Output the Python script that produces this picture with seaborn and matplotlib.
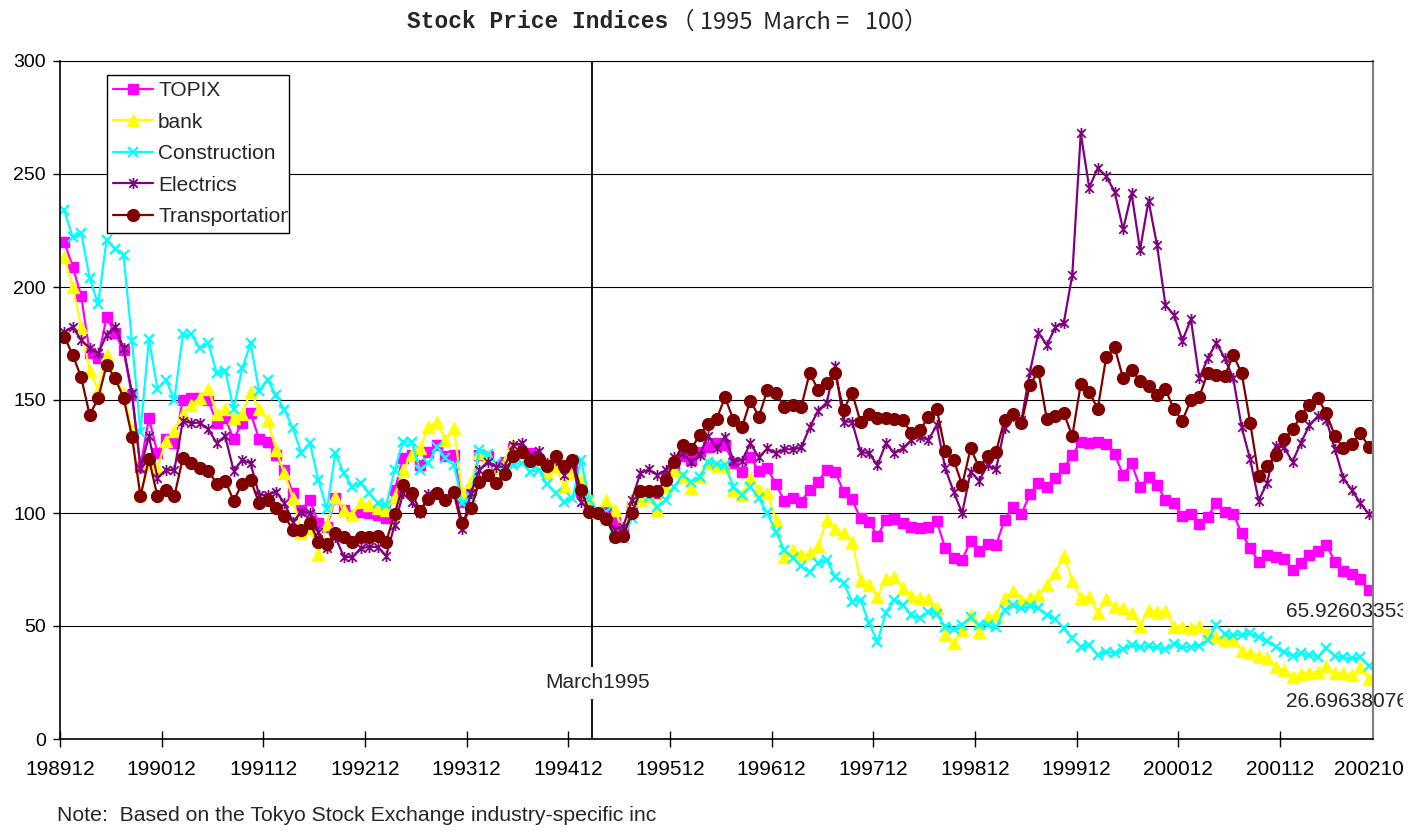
import numpy as np
import pandas as pd
import matplotlib
matplotlib.use("Agg")
import matplotlib.pyplot as plt
import seaborn as sns
from matplotlib.path import Path
from matplotlib.transforms import Bbox, TransformedBbox

# ==========================
# Monthly indices, 1989/12 .. 2002/10 (1995 March = 100)
# ==========================
topix = [220, 209, 196, 171, 168.5, 186.6, 179.5, 172, 152, 120.5,
         142, 126.6, 132.7, 131, 150, 151, 151, 150, 140, 142,
         132.7, 140, 144.4, 132.7, 131.5, 125.5, 119, 108.7, 101.3, 105.7,
         95.4, 94, 106.5, 101.3, 99, 100.6, 99.9, 99, 97.6, 110,
         124.2, 125.7, 121.2, 127, 130, 125, 125.7, 105, 110, 125.7,
         125, 121, 122.7, 128.6, 126.7, 126.4, 122.7, 121.2, 122.7, 120.5,
         120.5, 109.4, 101.3, 100.1, 100.6, 96, 92.5, 102.8, 109.4, 109,
         108.7, 116, 120.5, 125, 123.5, 127.1, 129.4, 130.8, 130, 122,
         118.3, 124.6, 118.7, 119.8, 112.8, 105.5, 106.5, 105, 110.2, 113.9,
         119, 118.3, 109.4, 106, 97.6, 96.2, 89.8, 96.9, 97.2, 95.7,
         93.7, 93.2, 94, 96.4, 84.4, 80, 79.2, 87.8, 83.3, 86.3,
         85.8, 96.9, 102.5, 99.6, 108.4, 113.1, 111.4, 115.3, 119.8, 125.7,
         131.6, 130.8, 131.6, 130.5, 126.1, 116.8, 122, 111.4, 115.8, 112.4,
         105.8, 104.3, 98.7, 99.6, 95.1, 98.1, 104.6, 100.6, 99.6, 91,
         84.4, 78.5, 81.4, 80.4, 79.5, 74.8, 77.7, 81.4, 83.3, 85.8,
         78.5, 74.5, 73, 70.6, 65.93]

bank = [213.4, 200, 182.5, 163, 154.4, 170, 160, 153, 136.7, 108,
        122, 120, 132, 136.4, 144, 148, 151, 155, 144, 146,
        142, 144, 153.7, 146, 141, 128, 117.5, 106.5, 91, 93.2,
        82, 95, 107.2, 101.3, 99, 105, 103.5, 102, 101.3, 107.2,
        119, 126, 128.6, 138.2, 140.4, 132.3, 137.5, 108.7, 113.9, 126.4,
        125, 120, 122.7, 130, 126.4, 124.2, 122, 117.5, 120.5, 112,
        117.5, 114.6, 106.5, 100.6, 105.8, 101.3, 91.7, 105.8, 105.8, 107.2,
        101.3, 111.7, 119, 116, 111, 116, 122, 121, 121, 110.2,
        108, 115.3, 110.2, 108.7, 96.9, 80.7, 83.6, 81.4, 82.2, 85.4,
        96.9, 92.8, 91, 87.3, 70.4, 68.1, 63, 71, 71.5, 66.7,
        63.3, 62.2, 61.8, 57.8, 46, 42.3, 48.2, 54.9, 47.5, 53.8,
        54.9, 62.2, 65.6, 61.5, 62.2, 63.7, 68.1, 73.6, 81, 70.1,
        62.2, 63, 55.6, 61.8, 58.6, 57.8, 55.6, 50.1, 57.1, 56.3,
        56.8, 49.7, 49.4, 49, 50, 46.8, 45, 43.8, 44, 39.1,
        37.9, 36.7, 35.7, 32, 30.5, 27.3, 28.8, 29.4, 29.8, 32.3,
        29, 29, 28.3, 31.7, 26.7]

construction = [234, 222, 224, 204, 192.5, 221, 217, 214, 176, 136,
                177, 155, 159, 150, 179, 179, 173, 175, 162, 163,
                146, 164, 175, 154, 159, 152, 145.6, 137.5, 126.4, 131,
                114.6, 101.6, 126.4, 117.5, 111.7, 113.4, 108.7, 104.3, 103.5, 119,
                131.6, 131.6, 119, 122, 129.4, 124.2, 121.2, 104.3, 107.2, 128,
                126, 122, 118, 121.2, 122.3, 118.3, 119, 112.8, 108.7, 105,
                106.5, 123.5, 105.8, 100.6, 100.6, 89.5, 88.8, 97.6, 108.7, 107.2,
                102.8, 105.8, 111.7, 116.8, 113.9, 116, 122.7, 121.6, 121.2, 111.7,
                108, 111.7, 106.5, 99.9, 91.7, 83.6, 80, 76.5, 74, 78,
                79.2, 71.8, 69.2, 60.8, 61.5, 51.2, 43.1, 55.9, 61.5, 59.3,
                54.9, 53.4, 56.3, 55.2, 49.7, 48.5, 50.4, 53.8, 50.4, 50.4,
                49.4, 57.1, 59.3, 57.8, 58.8, 57.8, 54.9, 53, 49, 44.5,
                40.9, 41.6, 37.2, 38.6, 38.2, 39.7, 41.6, 40.9, 41, 40.5,
                39.7, 42, 40.9, 40.6, 41.2, 43.8, 50.4, 46.5, 46, 46,
                47, 45, 43.5, 40.9, 38.6, 36.7, 37.9, 37.2, 36.4, 40.1,
                36.7, 36.1, 35.7, 36.1, 32.3]

electrics = [180, 182.4, 176.5, 173, 170.6, 178.8, 182.4, 173, 153, 120,
             134, 115.5, 119, 119, 140.8, 139.8, 140, 137, 131, 134,
             118.7, 123.5, 122, 108, 108, 109.5, 104.3, 96, 100.6, 100,
             91.7, 84.4, 89.5, 80.7, 80.4, 84.4, 85, 85, 81, 94.7,
             108.7, 105, 100, 108.4, 108.7, 105.7, 108.7, 92.8, 108.7, 119,
             122.7, 120.5, 120.5, 130, 130.8, 125.2, 127.6, 122, 123.5, 116.8,
             122, 105, 101.3, 100.1, 98.4, 92.5, 94, 105.8, 117.5, 119.3,
             116.8, 119, 124.6, 126.4, 122.7, 125.7, 134, 128.8, 133.8, 123.2,
             123.2, 130.8, 124.6, 128.6, 126.4, 128.2, 128.2, 129, 137.9, 145.3,
             148.8, 165, 140.4, 140.4, 127.1, 126.4, 121.2, 130.8, 126.4, 128.6,
             132.3, 133.8, 132.3, 138.8, 119.8, 109.4, 99.9, 118.3, 114.3, 121.2,
             119.3, 137.5, 142.9, 141, 162.5, 179.8, 174.3, 182.2, 184.2, 205.3,
             268, 244, 252.5, 249, 242.2, 225.5, 241.4, 216.4, 238.2, 218.6,
             192, 187.6, 176.3, 185.7, 159.6, 168.4, 175.4, 168.4, 159.6, 137.9,
             123.7, 105.5, 113.4, 129.6, 129, 122.7, 131.1, 138.9, 142.9, 141.2,
             128.2, 115.3, 110.2, 104.3, 99.6]

transportation = [178, 170, 160, 143.4, 150.7, 165.5, 159.6, 151, 133.8, 107.4,
                  124, 107.4, 110, 107.4, 124.3, 122.3, 120, 118.7, 113, 114.3,
                  105.4, 113, 114.6, 104.4, 105.8, 102, 98.7, 92.5, 92.5, 95.7,
                  87.3, 86.3, 91, 89.2, 87.3, 89.5, 89.5, 89.8, 87.3, 99.6,
                  112.4, 109, 101, 106, 108.7, 105.7, 109.4, 95.7, 102, 113.9,
                  116.8, 113.2, 117.3, 125, 127.1, 123.2, 123.7, 120.8, 125, 120.8,
                  123.5, 110.2, 100.6, 100.1, 97.2, 89.5, 89.8, 99.9, 109.7, 109.7,
                  109.7, 114.6, 122.7, 130, 128.2, 134.5, 139.4, 141.4, 151.2, 141.2,
                  137.9, 149.7, 142.6, 154.4, 153.2, 147, 147.8, 147, 162, 154.4,
                  157.4, 161.8, 145.6, 153.2, 140.4, 143.8, 141.9, 141.9, 141.4, 141.2,
                  135.3, 136.7, 142.3, 146, 127.6, 123.5, 112.4, 128.6, 120.2, 125.2,
                  127.1, 141.2, 143.8, 139.7, 156.6, 162.8, 141.4, 142.9, 144.1, 134.1,
                  157, 153.7, 146, 168.9, 173.3, 159.6, 163.3, 158.6, 156.4, 152.2,
                  154.7, 145.9, 140.9, 150, 151.5, 162.1, 161.1, 160.6, 169.9, 161.8,
                  140, 116.4, 120.8, 125.7, 132.6, 137, 142.9, 147.8, 150.7, 144.1,
                  134.1, 128.6, 130.5, 135.3, 129.4]

tick_labels = ["198912", "199012", "199112", "199212", "199312", "199412", "199512",
               "199612", "199712", "199812", "199912", "200012", "200112"]
last_label = "200210"
march_1995 = 62.25  # position between 199502 and 199503

df = pd.DataFrame({
    "idx": np.arange(len(topix)),
    "TOPIX": topix,
    "bank": bank,
    "Construction": construction,
    "Electrics": electrics,
    "Transportation": transportation,
})

# ==========================
# Figure
# ==========================
sns.set_theme(style="white")
plt.rcParams["font.family"] = ["Liberation Sans", "DejaVu Sans"]

W, H = 1426, 832
FS = 15
fig = plt.figure(figsize=(W / 100, H / 100), dpi=100)
ax = fig.add_axes([60 / W, 1 - 739 / H, 1313 / W, 678 / H])

# excel style asterisk: x plus a vertical bar
asterisk = Path([(-1, -1), (1, 1), (-1, 1), (1, -1), (0, -1.3), (0, 1.3)],
                [Path.MOVETO, Path.LINETO] * 3)

styles = [
    ("TOPIX", "#FF00FF", "s", 7.5, 1.0),
    ("bank", "#FFFF00", "^", 9, 1.0),
    ("Construction", "#00FFFF", "x", 7.5, 1.6),
    ("Electrics", "#800080", asterisk, 8, 1.3),
    ("Transportation", "#800000", "o", 8.5, 1.0),
]
for name, color, marker, ms, mew in styles:
    sns.lineplot(data=df, x="idx", y=name, ax=ax, color=color, lw=1.6,
                 marker=marker, markersize=ms, markerfacecolor=color,
                 markeredgecolor=color, markeredgewidth=mew, label=name)

ax.axvline(march_1995, color="black", lw=1.3, zorder=1.5)
ax.text(63, 24.8, "March1995", ha="center", va="center", fontsize=FS,
        bbox=dict(facecolor="white", edgecolor="none", pad=5))

ax.set_xlim(-0.5, len(topix) - 0.5)
ax.set_ylim(0, 300)
ax.set_yticks(range(0, 301, 50))
xt = [-0.5 + 12 * k for k in range(len(tick_labels))] + [len(topix) - 1]
ax.set_xticks(xt)
ax.set_xticklabels(tick_labels + [last_label])
ax.set_xlabel("")
ax.set_ylabel("")

ax.yaxis.grid(True, color="black", lw=0.8)
ax.xaxis.grid(False)
ax.set_axisbelow(True)
ax.tick_params(axis="x", direction="inout", length=12, width=1, pad=9,
               labelsize=FS, bottom=True, colors="black")
ax.tick_params(axis="y", direction="out", length=5, width=1, pad=5,
               labelsize=14, left=True, colors="black")
for s in ["left", "bottom"]:
    ax.spines[s].set_color("black")
    ax.spines[s].set_linewidth(1.2)
ax.spines["top"].set_color("black")
ax.spines["top"].set_linewidth(0.8)
ax.spines["right"].set_color("#808080")
ax.spines["right"].set_linewidth(1.6)

# texts reaching past the chart area are cut at its edge
clip = TransformedBbox(Bbox([[0, 0], [1403 / W, 1]]), fig.transFigure)
last_tick = ax.xaxis.get_major_ticks()[-1]
last_tick.tick1line.set_visible(False)
last_tick.label1.set_clip_box(clip)
last_tick.label1.set_clip_on(True)

for yv, txt in [(56.2, "65.92603353"), (16.4, "26.69638076")]:
    t = ax.text(144.2, yv, txt, ha="left", va="center", fontsize=FS)
    t.set_clip_path(None)
    t.set_clip_box(clip)
    t.set_clip_on(True)

# legend box of fixed width, as in the original the last label is cut
leg_h = 158 / 678
leg = ax.legend(loc="upper left",
                bbox_to_anchor=(47 / 1313, 664 / 678 - leg_h, 182 / 1313, leg_h),
                mode="expand", borderaxespad=0, frameon=True, fancybox=False,
                edgecolor="black", framealpha=1, fontsize=FS, handlelength=1.9,
                handletextpad=0.25, labelspacing=0.6, borderpad=0.3)
leg.get_frame().set_linewidth(1.0)
leg_clip = TransformedBbox(Bbox([[0, 0], [288 / W, 1]]), fig.transFigure)
for t in leg.get_texts():
    t.set_clip_box(leg_clip)
    t.set_clip_on(True)

fig.text(407 / W, 1 - 28.5 / H, "Stock Price Indices", family="Liberation Mono",
         weight="bold", fontsize=16.5, va="baseline", ha="left")
fig.text(671 / W, 1 - 28.5 / H, "（ 1995  March =   100）",
         family=["Noto Sans CJK JP", "DejaVu Sans"], fontsize=17,
         va="baseline", ha="left")
fig.text(57 / W, 1 - 821 / H,
         "Note:  Based on the Tokyo Stock Exchange industry-specific inc",
         fontsize=15.3, va="baseline", ha="left")

fig.savefig("out.png", dpi=100, facecolor="white")
